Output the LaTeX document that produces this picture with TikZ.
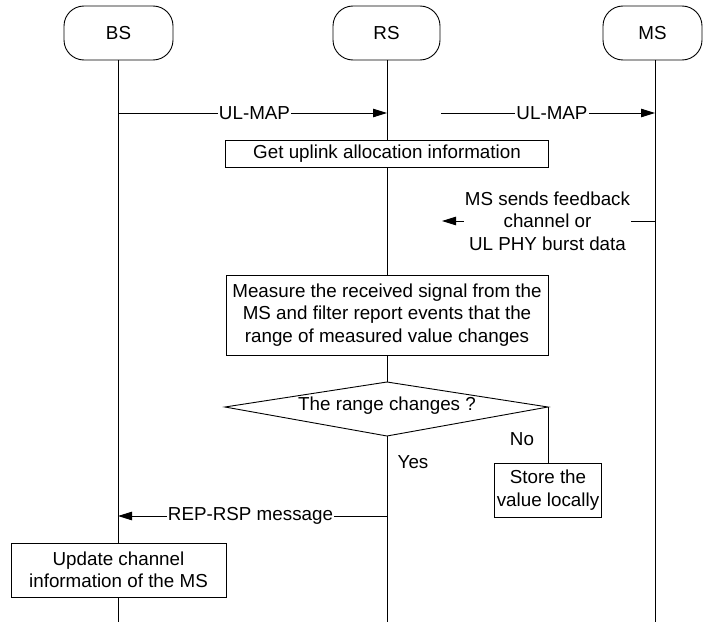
\documentclass[tikz,border=0pt]{standalone}
\usepackage{fontspec}
\setmainfont{Liberation Sans}
\usetikzlibrary{arrows.meta}
\newcommand\dfs{\fontsize{18.8}{22.5}\selectfont}
\tikzset{
  every node/.style={font=\dfs},
  hdr/.style={draw, rounded corners=20pt, minimum height=54pt, inner sep=0pt},
  proc/.style={draw, fill=white, inner sep=0pt, align=center},
  lbl/.style={fill=white, inner sep=1pt, align=center},
  msg/.style={-{Triangle[length=14pt,width=8.5pt]}},
  plain/.style={align=center, inner sep=0pt}
}
\begin{document}
\begin{tikzpicture}[x=1pt,y=-1pt,line width=0.9pt]
\useasboundingbox (0,0) rectangle (703,626);
% headers
\node[hdr, minimum width=109pt] (BS) at (118.5,33) {BS};
\node[hdr, minimum width=107pt] (RS) at (386.5,33) {RS};
\node[hdr, minimum width=99pt] (MS) at (652.5,33) {MS};
% lifeline coordinates
\coordinate (bsTop) at (118,60);
\coordinate (bsEnd) at (118,622);
\coordinate (rsTop) at (387,60);
\coordinate (rsEnd) at (387,622);
\coordinate (msTop) at (655,60);
\coordinate (msEnd) at (655,622);
\draw (bsTop) -- (bsEnd);
\draw (rsTop) -- (rsEnd);
\draw (msTop) -- (msEnd);
% UL-MAP messages
\coordinate (u1a) at (118,113);
\coordinate (u1b) at (387,113);
\coordinate (u2a) at (441,113);
\coordinate (u2b) at (655,113);
\draw[msg] (u1a) -- node[lbl, xshift=2pt] {UL-MAP} (u1b);
\draw[msg] (u2a) -- node[lbl, xshift=4pt] {UL-MAP} (u2b);
% get uplink
\node[proc, minimum width=323pt, minimum height=27pt] (get) at (387,153.5) {Get uplink allocation information};
% feedback
\coordinate (fba) at (655,221);
\coordinate (fbb) at (442,221);
\draw[msg] (fba) -- node[lbl, xshift=-1pt] {MS sends feedback\\channel or\\UL PHY burst data} (fbb);
% measure
\node[proc, minimum width=322pt, minimum height=80pt] (meas) at (387,315) {Measure the received signal from the\\MS and filter report events that the\\range of measured value changes};
% decision
\coordinate (dl) at (225,407);
\coordinate (dt) at (387,382);
\coordinate (dr) at (548,407);
\coordinate (db) at (387,436);
\draw[fill=white] (dl) -- (dt) -- (dr) -- (db) -- cycle;
\node[plain] (dec) at (387,406) {The range changes ?};
% no branch
\node[proc, minimum width=107pt, minimum height=54pt] (store) at (548,490) {Store the\\value locally};
\draw (dr) -- (store.north);
\node[plain] (no) at (522,439) {No};
\node[plain] (yes) at (413,462) {Yes};
% REP-RSP
\coordinate (ra) at (387,516);
\coordinate (rb) at (118,516);
\draw[msg] (ra) -- node[lbl, xshift=-2pt] {REP-RSP message} (rb);
% update
\node[proc, minimum width=215pt, minimum height=54pt] (upd) at (118.5,570) {Update channel\\information of the MS};
\end{tikzpicture}
\end{document}
